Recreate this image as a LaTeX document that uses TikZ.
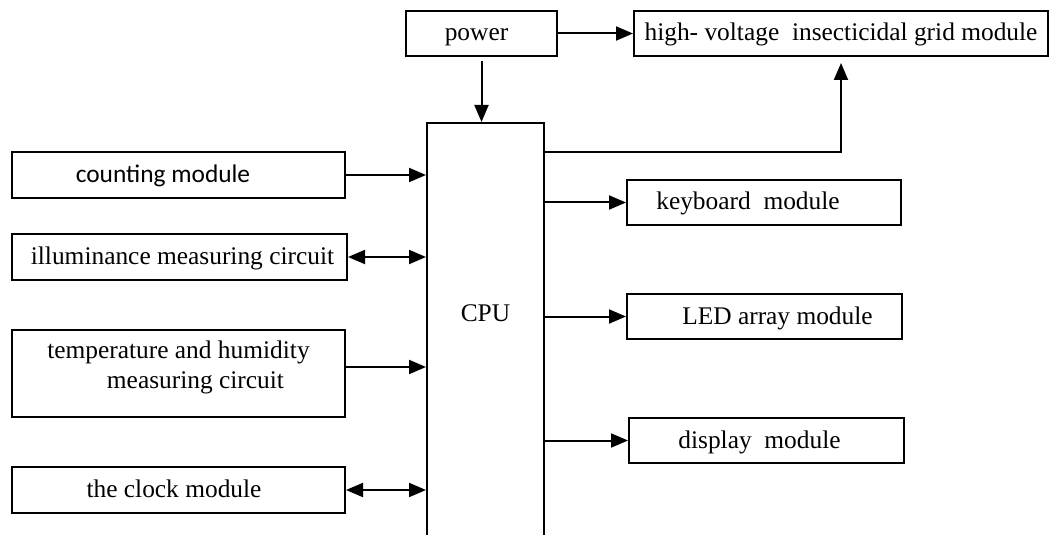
\documentclass[tikz,border=0pt]{standalone}
\usepackage{fontspec}
\setmainfont{Liberation Serif}
\newfontfamily\cntfont{Carlito}
\usetikzlibrary{arrows.meta}

\begin{document}
\begin{tikzpicture}[x=0.5pt,y=-0.5pt,every node/.style={font=\fontsize{12.7pt}{15pt}\selectfont},
        modbox/.style={draw,line width=1pt,inner sep=0pt,minimum height=22.5pt,text height=0.9em,text depth=0.15em},
        link/.style={line width=1pt,-{Triangle[length=8.5pt,width=7pt]}},
        dlink/.style={line width=1pt,{Triangle[length=8.5pt,width=7pt]}-{Triangle[length=8.5pt,width=7pt]}}]
                \useasboundingbox (0,0) rectangle (1051,535);
                \clip (0,0) rectangle (1051,535);
                % top row
                \node[modbox,minimum width=75.5pt] (power) at (481.5,33.5) {power\hspace*{5pt}};
                \node[modbox,minimum width=207pt] (hv) at (841,33.5) {high- voltage\ \ insecticidal grid module};
                \node[modbox,minimum width=58.5pt,minimum height=219pt,anchor=north,
                    label={[name=cpulbl,yshift=14.5pt]center:CPU}] (cpu) at (485.5,122) {};
                % inputs
                \node[modbox,minimum width=166.5pt,minimum height=23pt,font=\cntfont\fontsize{12.7pt}{15pt}\selectfont] (count) at (178.5,175) {counting module\hspace*{15.5pt}};
                \node[modbox,minimum width=167.5pt,minimum height=23pt] (illum) at (179.5,257) {\hspace*{3pt}illuminance measuring circuit};
                \node[modbox,minimum width=166.5pt,minimum height=43.5pt,
                    label={[name=templbl,align=center,yshift=3.25pt]center:{temperature and humidity\\\hspace*{17pt}measuring circuit}}] (temp) at (178.5,373.5) {};
                \node[modbox,minimum width=166.5pt,minimum height=23pt] (clock) at (178.5,490) {the clock module\hspace*{4.5pt}};
                % outputs
                \node[modbox,minimum width=137pt] (kbd) at (764,202.5) {keyboard\ \ module\hspace*{16pt}};
                \node[modbox,minimum width=137.5pt] (led) at (764.5,316.5) {\hspace*{13pt}LED array module};
                \node[modbox,minimum width=137.5pt] (disp) at (766.5,440.5) {display\ \ module\hspace*{7pt}};

                \draw[link] (power.east) -- (hv.west);
                \draw[link,shorten <=2pt] (power.south) -- (power.south |- cpu.north);
                \draw[link,shorten >=3pt] ([yshift=-15pt]cpu.north east) -| (hv.south);
                \draw[link] (count.east) -- (count.east -| cpu.west);
                \coordinate (tempout) at ([yshift=3.25pt]temp.east);
                \draw[link] (tempout) -- (tempout -| cpu.west);
                \foreach \m in {illum,clock}{
                    \draw[dlink] (\m.east) -- (\m.east -| cpu.west);
                }
                \foreach \m in {kbd,led,disp}{
                    \draw[link] (cpu.east |- \m.west) -- (\m.west);
                }
            \end{tikzpicture}
\end{document}
